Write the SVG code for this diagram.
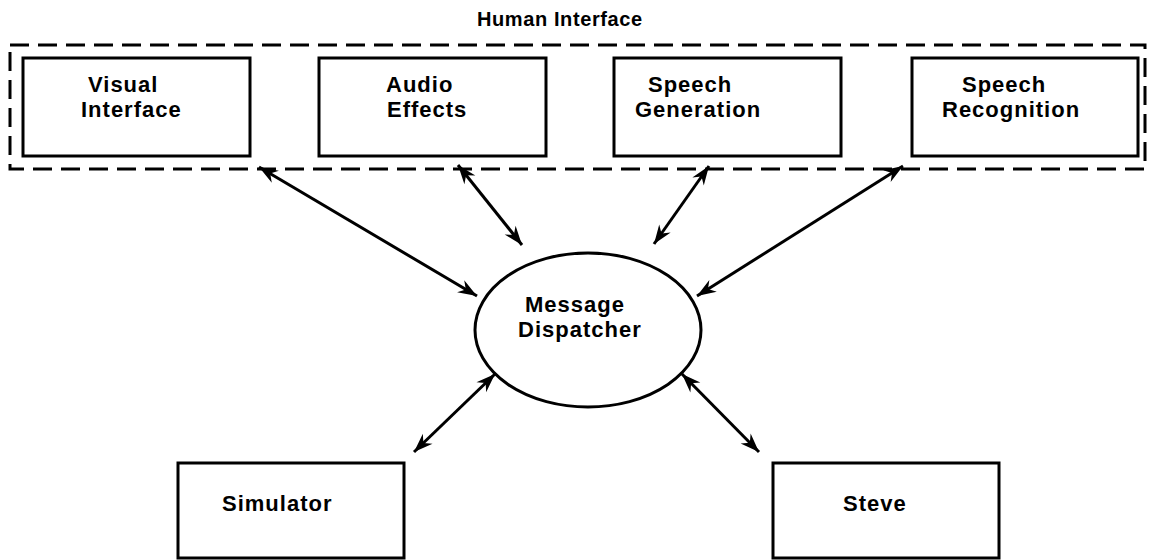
<svg xmlns="http://www.w3.org/2000/svg" width="1151" height="560" viewBox="0 0 1151 560">
  <style>
    .box { fill: #fff; stroke: #000; stroke-width: 3; }
    .group { fill: none; stroke: #000; stroke-width: 3; stroke-dasharray: 19 9; }
    .label { font-family: "Liberation Sans", Arial, sans-serif; font-weight: bold; font-size: 22px; letter-spacing: 1px; fill: #000; }
    .title { font-size: 20px; letter-spacing: 0.6px; }
    .link { stroke: #000; stroke-width: 3; fill: none; marker-start: url(#head); marker-end: url(#head); }
  </style>
  <defs>
    <marker id="head" viewBox="-20 -8 21 16" refX="0" refY="0" markerWidth="21" markerHeight="16" markerUnits="userSpaceOnUse" orient="auto-start-reverse">
      <path d="M0,0 L-19,-7 L-13,0 L-19,7 Z" fill="#000"/>
    </marker>
  </defs>

  <rect fill="#fff" x="0" y="0" width="1151" height="560"/>

  <!-- Human interface grouping -->
  <g id="human-interface">
    <rect class="group" x="10" y="45" width="1135" height="124"/>
    <text class="label title" x="477" y="26">Human Interface</text>
  </g>

  <g id="visual-interface">
    <rect class="box" x="23" y="58" width="227" height="98"/>
    <text class="label" x="88" y="92">Visual</text>
    <text class="label" x="81" y="117">Interface</text>
  </g>

  <g id="audio-effects">
    <rect class="box" x="319" y="58" width="227" height="98"/>
    <text class="label" x="386" y="92">Audio</text>
    <text class="label" x="387" y="117">Effects</text>
  </g>

  <g id="speech-generation">
    <rect class="box" x="614" y="58" width="227" height="98"/>
    <text class="label" x="648" y="92">Speech</text>
    <text class="label" x="635" y="117">Generation</text>
  </g>

  <g id="speech-recognition">
    <rect class="box" x="912" y="58" width="226" height="98"/>
    <text class="label" x="962" y="92">Speech</text>
    <text class="label" x="942" y="117">Recognition</text>
  </g>

  <g id="message-dispatcher">
    <ellipse class="box" cx="588" cy="330" rx="113" ry="77"/>
    <text class="label" x="525" y="312">Message</text>
    <text class="label" x="518" y="337">Dispatcher</text>
  </g>

  <g id="simulator">
    <rect class="box" x="178" y="463" width="226" height="95"/>
    <text class="label" x="222" y="511">Simulator</text>
  </g>

  <g id="steve">
    <rect class="box" x="773" y="463" width="226" height="95"/>
    <text class="label" x="843" y="511">Steve</text>
  </g>

  <!-- Connectors: all links are two-way -->
  <g id="connectors">
    <line class="link" x1="259" y1="167" x2="477" y2="296"/>
    <line class="link" x1="458" y1="165" x2="522" y2="245"/>
    <line class="link" x1="709" y1="166" x2="654" y2="244"/>
    <line class="link" x1="903" y1="166" x2="697" y2="296"/>
    <line class="link" x1="495" y1="374" x2="414" y2="452"/>
    <line class="link" x1="682" y1="374" x2="759" y2="452"/>
  </g>
</svg>
